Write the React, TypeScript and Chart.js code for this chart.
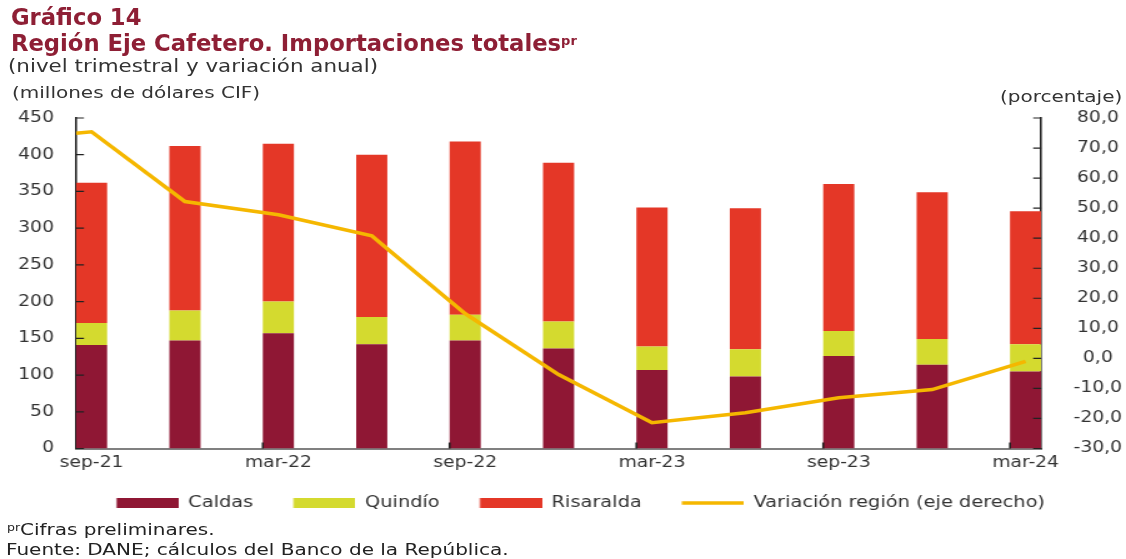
import React, { useEffect, useRef } from 'react';
import { Chart, registerables } from 'chart.js';

Chart.register(...registerables);

// ---- data ----
const quarters = ['sep-21', 'dic-21', 'mar-22', 'jun-22', 'sep-22', 'dic-22', 'mar-23', 'jun-23', 'sep-23', 'dic-23', 'mar-24'];
const xTickLabels = ['sep-21', 'mar-22', 'sep-22', 'mar-23', 'sep-23', 'mar-24'];
const caldas = [141, 147, 157, 142, 147, 136, 107, 98, 126, 114, 105];
const quindio = [30, 41, 43, 37, 35, 37, 32, 37, 34, 35, 37];
const risaralda = [191, 224, 215, 221, 236, 216, 189, 192, 200, 200, 181];
const variacion = [75.4, 52.2, 47.8, 40.8, 14.9, -5.4, -21.4, -18.1, -13.1, -10.4, -1.0];
const variacionInicio = 74.9; // where the line meets the left axis
const leftAxis = { min: 0, max: 450, step: 50 };
const rightAxis = { min: -30, max: 80, step: 10 };

// ---- layout ----
const W = 901;
const H = 559;
const K = 1126 / W; // horizontal stretch of the drawing
const X_PAD = 1 / 6;
const FONT = "'DejaVu Sans'";
const SWATCH_W = 59;
const BOX_W = 49.6;
const BOX_H = 10;
const LINE_W = 3.5;

const COLORS = {
  caldas: '#8F1734',
  quindio: '#D4DA2F',
  risaralda: '#E43727',
  variacion: '#F5B700',
};

function makeSwatch(color: string, kind: 'rect' | 'line') {
  const c = document.createElement('canvas');
  c.width = SWATCH_W;
  c.height = BOX_H;
  const g = c.getContext('2d') as CanvasRenderingContext2D;
  if (kind === 'rect') {
    g.fillStyle = color;
    g.fillRect(SWATCH_W - BOX_W, 0, BOX_W, BOX_H);
  } else {
    g.strokeStyle = color;
    g.lineWidth = LINE_W;
    g.beginPath();
    g.moveTo(SWATCH_W - BOX_W, BOX_H / 2);
    g.lineTo(SWATCH_W, BOX_H / 2);
    g.stroke();
  }
  return c;
}

const tickMarks = {
  id: 'tickMarks',
  afterDatasetsDraw(chart: any) {
    const { ctx, chartArea } = chart;
    const { x, y, y1 } = chart.scales;
    ctx.save();
    ctx.strokeStyle = '#222';
    ctx.lineWidth = 1.2;
    ctx.beginPath();
    y.ticks.forEach((t: any) => {
      const py = y.getPixelForValue(t.value);
      ctx.moveTo(chartArea.left, py);
      ctx.lineTo(chartArea.left + 6.4, py);
    });
    y1.ticks.forEach((t: any) => {
      const py = y1.getPixelForValue(t.value);
      ctx.moveTo(chartArea.right, py);
      ctx.lineTo(chartArea.right - 6.4, py);
    });
    ctx.stroke();
    ctx.lineWidth = 1.6;
    ctx.beginPath();
    x.ticks.forEach((t: any) => {
      const px = x.getPixelForValue(t.value - X_PAD);
      if (px <= chartArea.left + 1) return;
      ctx.moveTo(px, chartArea.bottom);
      ctx.lineTo(px, chartArea.bottom - 6);
    });
    ctx.stroke();
    ctx.restore();
  },
};

const stretched = (scale: number): React.CSSProperties => ({
  position: 'absolute',
  whiteSpace: 'nowrap',
  transform: `scaleX(${scale})`,
  transformOrigin: '0 0',
  fontFamily: FONT,
});

export default function App() {
  const ref = useRef<HTMLCanvasElement>(null);

  useEffect(() => {
    document.body.style.overflow = 'hidden';
    const toXY = (arr: number[]) => arr.map((v, i) => ({ x: i, y: v }));
    const swatches: Record<string, HTMLCanvasElement> = {
      Caldas: makeSwatch(COLORS.caldas, 'rect'),
      'Quindío': makeSwatch(COLORS.quindio, 'rect'),
      Risaralda: makeSwatch(COLORS.risaralda, 'rect'),
      'Variación región (eje derecho)': makeSwatch(COLORS.variacion, 'line'),
    };
    const chart = new Chart(ref.current as HTMLCanvasElement, {
      type: 'bar',
      data: {
        datasets: [
          { type: 'bar', label: 'Caldas', data: toXY(caldas), backgroundColor: COLORS.caldas, borderWidth: 0, order: 2 },
          { type: 'bar', label: 'Quindío', data: toXY(quindio), backgroundColor: COLORS.quindio, borderWidth: 0, order: 2 },
          { type: 'bar', label: 'Risaralda', data: toXY(risaralda), backgroundColor: COLORS.risaralda, borderWidth: 0, order: 2 },
          {
            type: 'line',
            label: 'Variación región (eje derecho)',
            data: [{ x: -X_PAD, y: variacionInicio }, ...toXY(variacion)],
            yAxisID: 'y1',
            borderColor: COLORS.variacion,
            backgroundColor: COLORS.variacion,
            borderWidth: LINE_W,
            pointRadius: 0,
            tension: 0,
            order: 1,
          },
        ],
      } as any,
      options: {
        responsive: false,
        animation: false,
        devicePixelRatio: 1,
        events: [],
        layout: { padding: { left: 0, right: -19, top: 118, bottom: 38.3 } },
        datasets: { bar: { barPercentage: 2 * X_PAD, categoryPercentage: 1 } },
        scales: {
          x: {
            type: 'linear',
            min: -X_PAD,
            max: quarters.length - 1 + X_PAD,
            stacked: true,
            offset: false,
            grid: { display: false, drawTicks: false },
            border: { display: true, color: '#808080', width: 2 },
            afterBuildTicks: (s: any) => {
              s.ticks = xTickLabels.map((l) => ({ value: quarters.indexOf(l) }));
            },
            afterFit: (s: any) => {
              s.height = 24;
            },
            ticks: {
              autoSkip: false,
              maxRotation: 0,
              padding: 5.5,
              color: '#333',
              font: { family: FONT, size: 15 },
              callback: (v: any) => quarters[v as number] ?? '',
            },
          },
          y: {
            position: 'left',
            min: leftAxis.min,
            max: leftAxis.max,
            stacked: true,
            grid: { display: false, drawTicks: false },
            border: { display: true, color: '#222', width: 1.6 },
            afterFit: (s: any) => {
              s.width = 60.8;
            },
            ticks: {
              stepSize: leftAxis.step,
              padding: 17.6,
              color: '#333',
              font: { family: FONT, size: 15 },
            },
          },
          y1: {
            position: 'right',
            min: rightAxis.min,
            max: rightAxis.max,
            stacked: false,
            grid: { display: false, drawTicks: false },
            border: { display: true, color: '#222', width: 1.6 },
            afterFit: (s: any) => {
              s.width = 86.9;
            },
            ticks: {
              stepSize: rightAxis.step,
              padding: 26,
              crossAlign: 'center',
              color: '#333',
              font: { family: FONT, size: 15 },
              callback: (v: any) => Number(v).toFixed(1).replace('.', ','),
            },
          },
        } as any,
        plugins: {
          tooltip: { enabled: false },
          title: { display: false },
          legend: {
            position: 'bottom',
            labels: {
              usePointStyle: true,
              pointStyleWidth: SWATCH_W,
              boxHeight: BOX_H,
              padding: 22.7,
              color: '#333',
              font: { family: FONT, size: 15.5 },
              sort: (a: any, b: any) => a.datasetIndex - b.datasetIndex,
              generateLabels: (c: any) =>
                (Chart.defaults.plugins.legend.labels as any).generateLabels(c).map((item: any) => ({
                  ...item,
                  pointStyle: swatches[item.text],
                  lineWidth: 0,
                })),
            },
          },
        },
      } as any,
      plugins: [tickMarks],
    });
    return () => chart.destroy();
  }, []);

  const titleStyle: React.CSSProperties = {
    position: 'absolute',
    left: 11,
    whiteSpace: 'nowrap',
    fontFamily: FONT,
    fontWeight: 'bold',
    fontSize: 22.7,
    lineHeight: '22.7px',
    color: '#8E1F35',
  };

  return (
    <div style={{ position: 'absolute', left: 0, top: 0, width: 1126, height: 559, overflow: 'hidden', background: '#fff' }}>
      <div style={{ position: 'absolute', left: 0, top: 0, width: W, height: H, transform: `scaleX(${K})`, transformOrigin: '0 0' }}>
        <canvas ref={ref} width={W} height={H} style={{ display: 'block', width: W, height: H }} />
      </div>

      <div style={{ ...titleStyle, top: 6.1 }}>Gráfico 14</div>
      <div style={{ ...titleStyle, top: 30 }}>
        Región Eje Cafetero. Importaciones totales
        <span style={{ fontSize: 13, verticalAlign: 6 }}>pr</span>
      </div>
      <div style={{ ...stretched(1.19), left: 8, top: 57, fontSize: 18, lineHeight: '18px', color: '#333' }}>
        (nivel trimestral y variación anual)
      </div>
      <div style={{ ...stretched(1.25), left: 11.5, top: 85, fontSize: 16, lineHeight: '16px', color: '#333' }}>
        (millones de dólares CIF)
      </div>
      <div style={{ ...stretched(1.25), left: 1000, top: 88.5, fontSize: 16, lineHeight: '16px', color: '#333' }}>
        (porcentaje)
      </div>
      <div style={{ ...stretched(1.25), left: 7, top: 522.5, fontSize: 10, lineHeight: '10px', color: '#222' }}>pr</div>
      <div style={{ ...stretched(1.25), left: 20, top: 521.5, fontSize: 16, lineHeight: '16px', color: '#222' }}>
        Cifras preliminares.
      </div>
      <div style={{ ...stretched(1.25), left: 5.5, top: 541.5, fontSize: 16, lineHeight: '16px', color: '#222' }}>
        Fuente: DANE; cálculos del Banco de la República.
      </div>
    </div>
  );
}
